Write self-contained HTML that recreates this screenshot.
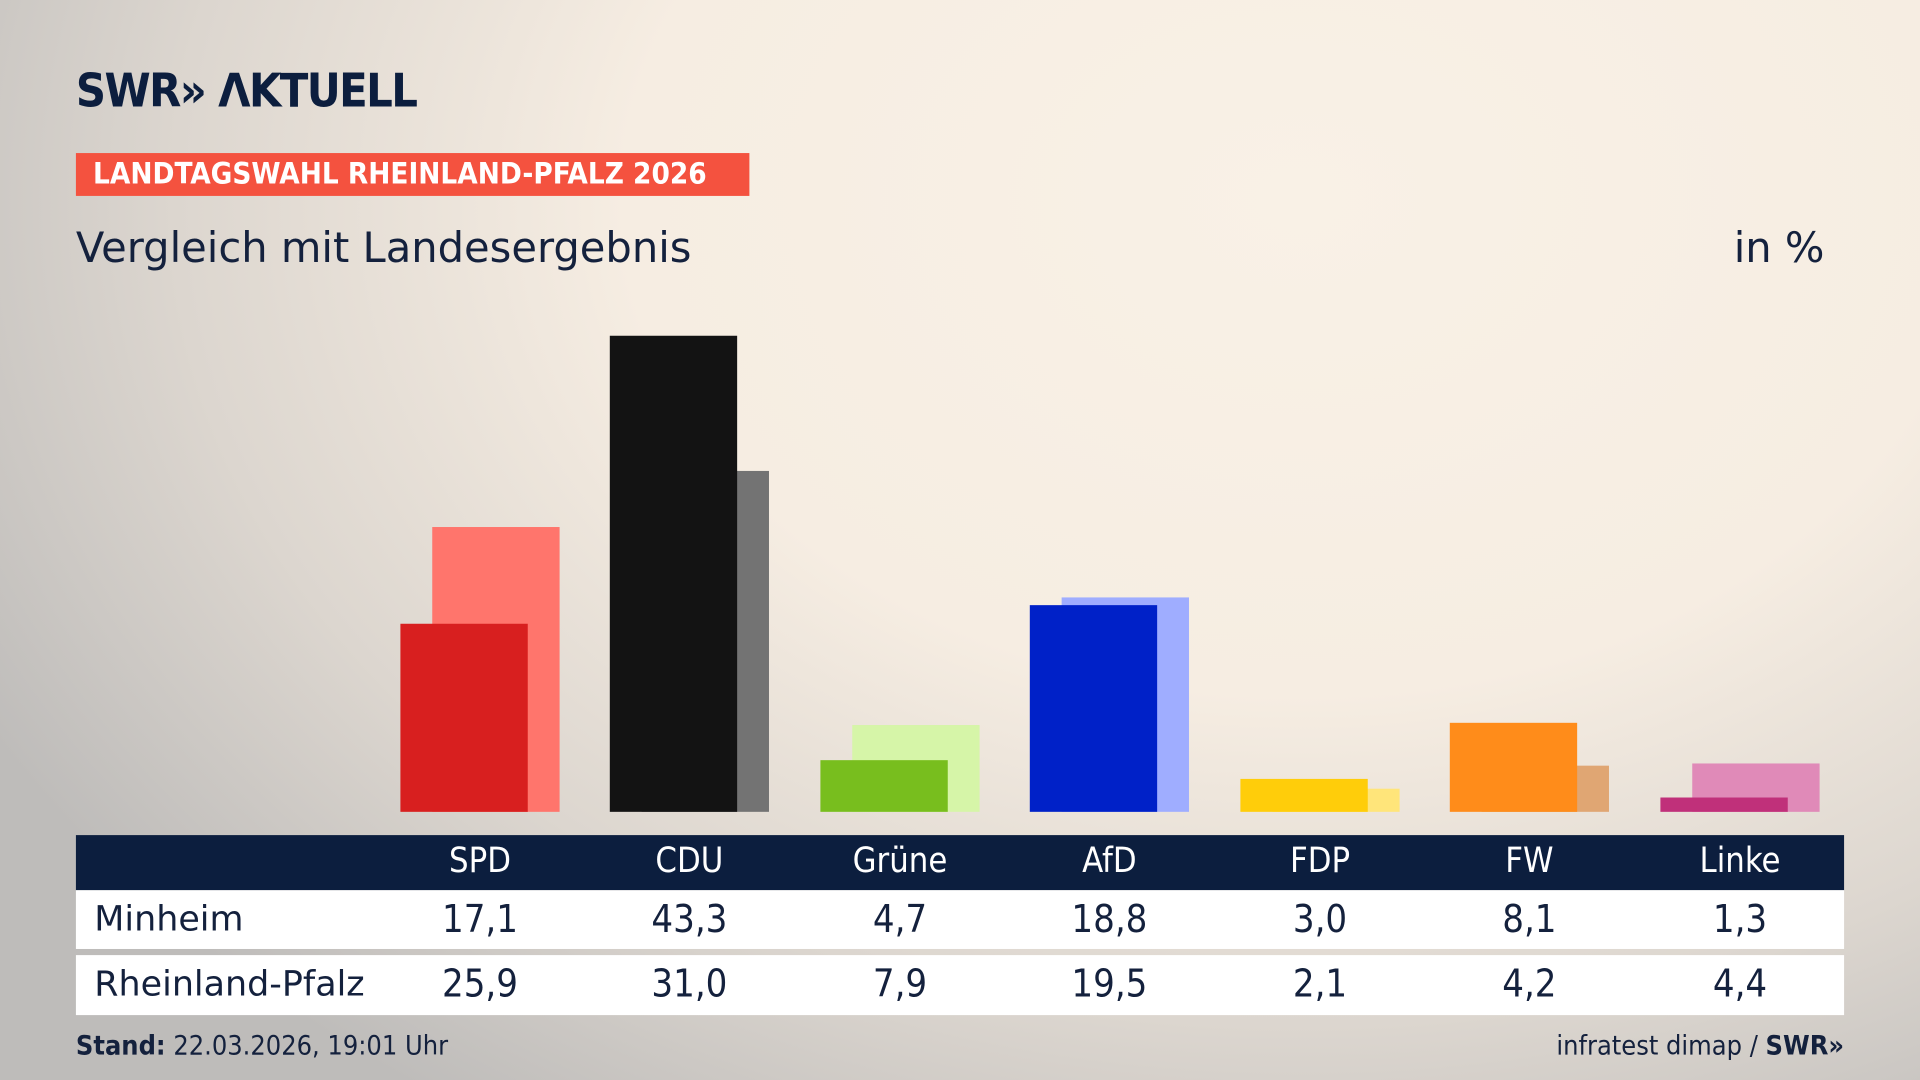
<!DOCTYPE html>
<html><head><meta charset="utf-8"><style>
html,body{margin:0;padding:0;width:1920px;height:1080px;overflow:hidden}
body{background:radial-gradient(ellipse 1500px 1100px at 1300px 200px,#f9f1e6 0%,#f6ede2 45%,#dcd6cf 75%,#bebcba 100%);font-family:"Liberation Sans","DejaVu Sans",sans-serif}
#w{position:absolute;left:0;top:0;width:1568px;height:882px;transform:scale(1.22449);transform-origin:0 0}
.a{position:absolute}
.logo{left:62px;top:52px;font-size:38px;font-weight:bold;color:#0c1e3e;letter-spacing:-1.3px;font-family:"DejaVu Sans Condensed","Liberation Sans",sans-serif}
.tag{left:62px;top:125px;width:550px;height:35px;background:#f4523f;color:#fff;font-weight:bold;font-size:24px;line-height:35px;padding-left:14px;box-sizing:border-box;font-family:"DejaVu Sans Condensed","Liberation Sans",sans-serif}
.sub{left:62px;top:183px;font-size:34px;color:#14213d;font-family:"DejaVu Sans","Liberation Sans",sans-serif}
.pct{right:78px;top:183px;font-size:34px;color:#14213d;font-family:"DejaVu Sans","Liberation Sans",sans-serif}
.hdr{left:62px;top:682px;width:1444px;height:45px;background:#0c1e3e}
.r1{left:62px;top:727px;width:1444px;height:48px;background:#fff}
.r2{left:62px;top:780px;width:1444px;height:49px;background:#fff}
.c{position:absolute;width:140px;margin-left:-70px;text-align:center;font-family:"DejaVu Sans Condensed","Liberation Sans",sans-serif}
.h{top:686px;font-size:28px;color:#fff}
.v1{top:733px;font-size:31px;color:#14213d}
.v2{top:786px;font-size:31px;color:#14213d}
.lab{font-size:28.5px;color:#14213d;left:77px;font-family:"DejaVu Sans","Liberation Sans",sans-serif}
.ft{top:842px;font-size:22px;color:#14213d;font-family:"DejaVu Sans Condensed","Liberation Sans",sans-serif}
</style></head><body><div id="w">
<div class="a logo">SWR» ΛKTUELL</div>
<div class="a tag">LANDTAGSWAHL RHEINLAND-PFALZ 2026</div>
<div class="a sub">Vergleich mit Landesergebnis</div>
<div class="a pct">in %</div>
<svg class="a" style="left:0;top:0" width="1568" height="700">
<g>
<rect x="353" y="430.4" width="104" height="232.6" fill="#ff756c"/><rect x="327" y="509.4" width="104" height="153.6" fill="#d81f1f"/>
<rect x="524" y="384.6" width="104" height="278.4" fill="#737373"/><rect x="498" y="274.2" width="104" height="388.8" fill="#131313"/>
<rect x="696" y="592.1" width="104" height="70.9" fill="#d6f5a8"/><rect x="670" y="620.8" width="104" height="42.2" fill="#78be1e"/>
<rect x="867" y="487.9" width="104" height="175.1" fill="#9fadff"/><rect x="841" y="494.2" width="104" height="168.8" fill="#0021c8"/>
<rect x="1039" y="644.1" width="104" height="18.9" fill="#ffe57a"/><rect x="1013" y="636.1" width="104" height="26.9" fill="#ffcd0a"/>
<rect x="1210" y="625.3" width="104" height="37.7" fill="#e0a673"/><rect x="1184" y="590.3" width="104" height="72.7" fill="#ff8c1a"/>
<rect x="1382" y="623.5" width="104" height="39.5" fill="#e08ab8"/><rect x="1356" y="651.3" width="104" height="11.7" fill="#c0307a"/>
</g></svg>
<div class="a hdr"></div><div class="a r1"></div><div class="a r2"></div>
<div class="a lab" style="top:734px">Minheim</div>
<div class="a lab" style="top:787px">Rheinland-Pfalz</div>
<div class="c h" style="left:392px">SPD</div><div class="c h" style="left:563px">CDU</div><div class="c h" style="left:735px">Grüne</div><div class="c h" style="left:906px">AfD</div><div class="c h" style="left:1078px">FDP</div><div class="c h" style="left:1249px">FW</div><div class="c h" style="left:1421px">Linke</div>
<div class="c v1" style="left:392px">17,1</div><div class="c v1" style="left:563px">43,3</div><div class="c v1" style="left:735px">4,7</div><div class="c v1" style="left:906px">18,8</div><div class="c v1" style="left:1078px">3,0</div><div class="c v1" style="left:1249px">8,1</div><div class="c v1" style="left:1421px">1,3</div>
<div class="c v2" style="left:392px">25,9</div><div class="c v2" style="left:563px">31,0</div><div class="c v2" style="left:735px">7,9</div><div class="c v2" style="left:906px">19,5</div><div class="c v2" style="left:1078px">2,1</div><div class="c v2" style="left:1249px">4,2</div><div class="c v2" style="left:1421px">4,4</div>
<div class="a ft" style="left:62px"><b>Stand:</b> 22.03.2026, 19:01 Uhr</div>
<div class="a ft" style="right:62px">infratest dimap / <b>SWR»</b></div>
</div></body></html>
